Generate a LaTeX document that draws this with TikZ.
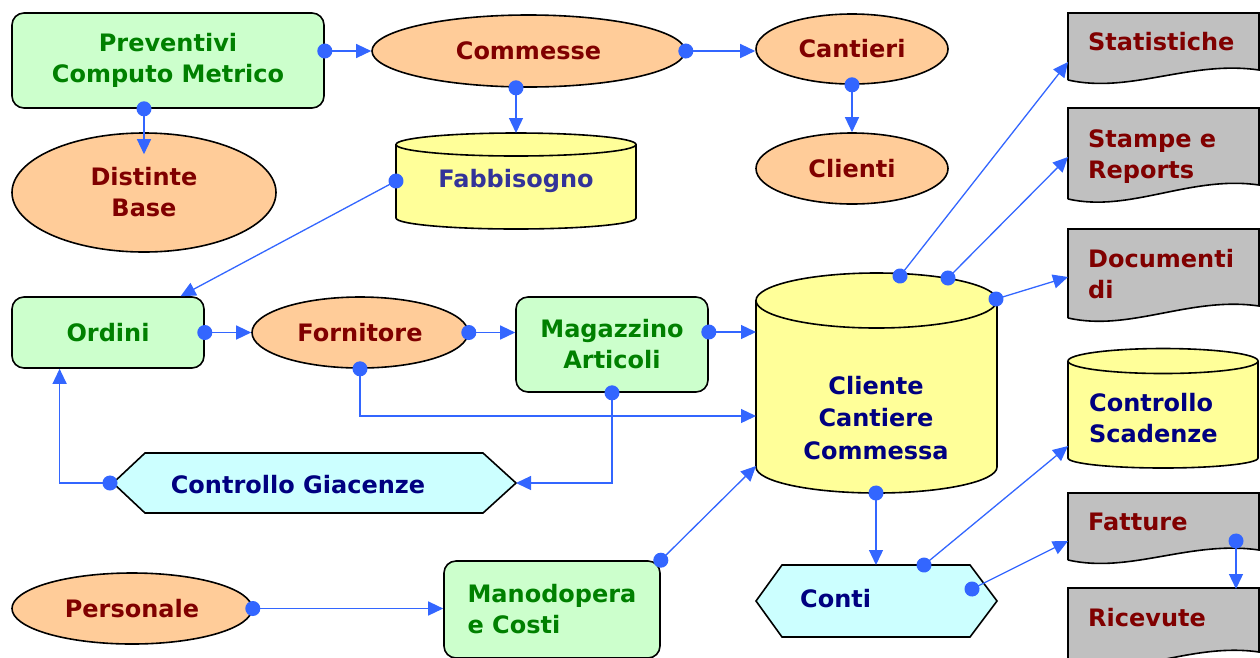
\documentclass[tikz,border=0pt]{standalone}
\usepackage{fontspec}
\setmainfont{DejaVu Sans}
\usetikzlibrary{shapes.geometric,arrows.meta,calc}

\definecolor{linkblue}{RGB}{51,102,255}
\definecolor{procgreen}{RGB}{204,255,204}
\definecolor{proctext}{RGB}{0,128,0}
\definecolor{entorange}{RGB}{255,204,153}
\definecolor{enttext}{RGB}{128,0,0}
\definecolor{dbyellow}{RGB}{255,255,153}
\definecolor{dbtext}{RGB}{0,0,128}
\definecolor{fabtext}{RGB}{51,51,153}
\definecolor{docgray}{RGB}{192,192,192}
\definecolor{ctrlcyan}{RGB}{204,255,255}

\tikzset{
  txt/.style={font=\bfseries\fontsize{24}{31}\selectfont, inner sep=0pt},
  outline/.style={draw=black, line width=1.6pt},
  proc/.style={txt, outline, fill=procgreen, text=proctext, rounded corners=12pt, align=center},
  ent/.style={txt, outline, ellipse, fill=entorange, text=enttext, align=center},
  dbshape/.style={outline, fill=dbyellow},
  docshape/.style={outline, fill=docgray},
  ctrlshape/.style={outline, fill=ctrlcyan},
  doclabel/.style={txt, text=enttext, anchor=base west, align=left},
  link/.style={linkblue, line width=1.3pt, shorten <=-7.5pt,
    {Circle[length=15pt]}-{Triangle[length=15pt,width=14pt]}},
}

\begin{document}
\begin{tikzpicture}[x=1pt, y=-1pt]
    \useasboundingbox (0,0) rectangle (1260,657);

    % Processes
    \node[proc, minimum width=312pt, minimum height=95pt] (prev) at (168,60.5) {Preventivi\\Computo Metrico};
    \node[proc, minimum width=192pt, minimum height=71pt] (ordi) at (108,332.5) {Ordini};
    \node[proc, minimum width=192pt, minimum height=95pt] (maga) at (612,344.5) {Magazzino\\Articoli};
    \node[proc, minimum width=216pt, minimum height=97pt, align=left] (mano) at (552,609.5) {Manodopera\\e Costi};

    % Entities
    \node[ent, minimum width=313pt, minimum height=72pt] (comm) at (528.5,51) {Commesse};
    \node[ent, minimum width=192pt, minimum height=70pt] (cant) at (852,49) {Cantieri};
    \node[ent, minimum width=192pt, minimum height=71pt] (clie) at (852,168.5) {Clienti};
    \node[ent, minimum width=264pt, minimum height=119pt] (dist) at (144,192.5) {Distinte\\Base};
    \node[ent, minimum width=216pt, minimum height=71pt] (forn) at (360,332.5) {Fornitore};
    \node[ent, minimum width=240pt, minimum height=71pt] (pers) at (132,608.5) {Personale};

    % Archives
    \filldraw[dbshape] (396,144.5) -- (396,218) arc[start angle=180, end angle=0, x radius=120, y radius=11] -- (636,144.5);
    \filldraw[dbshape] (516,144.5) ellipse[x radius=120, y radius=11.5];
    \node[txt, text=fabtext] (fabb) at (516,181) {Fabbisogno};

    \filldraw[dbshape] (756,300.5) -- (756,467) arc[start angle=180, end angle=0, x radius=120.5, y radius=26] -- (997,300.5);
    \filldraw[dbshape] (876.5,300.5) ellipse[x radius=120.5, y radius=27.5];
    \node[txt, text=dbtext, align=center, font=\bfseries\fontsize{24}{32.5}\selectfont] (ccc) at (876,418) {Cliente\\Cantiere\\Commessa};

    \filldraw[dbshape] (1068,361) -- (1068,458) arc[start angle=180, end angle=0, x radius=95, y radius=10] -- (1258,361);
    \filldraw[dbshape] (1163,361) ellipse[x radius=95, y radius=12.5];
    \node[doclabel, text=dbtext] (scad) at (1089,442) {Controllo\\Scadenze};

    % Controls
    \filldraw[ctrlshape] (113,483) -- (145,453) -- (483,453) -- (516,483) -- (483,513) -- (145,513) -- cycle;
    \node[txt, text=dbtext, anchor=base] (giac) at (298,493) {Controllo Giacenze};
    \filldraw[ctrlshape] (756,601) -- (782,565) -- (970,565) -- (997,601) -- (970,637) -- (782,637) -- cycle;
    \node[txt, text=dbtext, anchor=base west] (conti) at (800,607) {Conti};

    % Documents
    \filldraw[docshape] (1068,80) -- (1068,13) -- (1259,13) -- (1259,70) .. controls (1190,60) and (1130,94) .. (1068,80);
    \node[doclabel] (stat) at (1088,50) {Statistiche};
    \filldraw[docshape] (1068,199) -- (1068,108) -- (1259,108) -- (1259,185) .. controls (1190,175) and (1130,213) .. (1068,199);
    \node[doclabel] (stam) at (1088,178) {Stampe e\\Reports};
    \filldraw[docshape] (1068,318) -- (1068,229) -- (1259,229) -- (1259,306) .. controls (1190,296) and (1130,332) .. (1068,318);
    \node[doclabel] (docu) at (1088,298) {Documenti\\di};
    \filldraw[docshape] (1068,560) -- (1068,493) -- (1259,493) -- (1259,550) .. controls (1190,540) and (1130,574) .. (1068,560);
    \node[doclabel] (fatt) at (1088,530) {Fatture};
    \filldraw[docshape] (1068,665) -- (1068,588) -- (1259,588) -- (1259,652) .. controls (1190,642) and (1130,679) .. (1068,665);
    \node[doclabel] (rice) at (1088,626) {Ricevute};

    % Connection points
    \coordinate (fabb-n) at (516,133);
    \coordinate (fabb-w) at (396,181);
    \coordinate (ccc-n1) at (900,276);
    \coordinate (ccc-n2) at (948,278);
    \coordinate (ccc-n3) at (996,299);
    \coordinate (ccc-w1) at (756,332);
    \coordinate (ccc-w2) at (756,416);
    \coordinate (ccc-w3) at (756,466);
    \coordinate (ccc-s) at (876,493);
    \coordinate (giac-w) at (110,483);
    \coordinate (giac-e) at (516,483);
    \coordinate (conti-n) at (876,565);
    \coordinate (conti-p1) at (924,565);
    \coordinate (conti-p2) at (972,589);
    \coordinate (stat-w) at (1068,62);
    \coordinate (stam-w) at (1068,157);
    \coordinate (docu-w) at (1068,277);
    \coordinate (scad-w) at (1068,446);
    \coordinate (fatt-w) at (1068,541);
    \coordinate (fatt-p) at (1236,541);
    \coordinate (rice-n) at (1236,589);

    % Links
    \draw[link] (prev.east |- comm.west) -- (comm.west);
    \draw[link] (prev.south -| dist.north) -- ([yshift=-22pt]dist.north);
    \draw[link] (comm.east) -- (comm.east -| cant.west);
    \draw[link] (comm.south -| fabb-n) -- (fabb-n);
    \draw[link] (cant.south) -- (clie.north);
    \draw[link] (fabb-w) -- ($(ordi.north)!0.75!(ordi.north east)$);
    \draw[link] (ordi.east) -- (forn.west);
    \draw[link] (forn.east) -- (forn.east -| maga.west);
    \draw[link] (maga.east |- ccc-w1) -- (ccc-w1);
    \draw[link] (forn.south) |- (ccc-w2);
    \draw[link] (maga.south) |- (giac-e);
    \draw[link] (giac-w) -| ($(ordi.south west)!0.5!(ordi.south)$);
    \draw[link] (mano.north east) -- (ccc-w3);
    \draw[link] (pers.east) -- (pers.east -| mano.west);
    \draw[link] (ccc-n1) -- (stat-w);
    \draw[link] (ccc-n2) -- (stam-w);
    \draw[link] (ccc-n3) -- (docu-w);
    \draw[link] (ccc-s) -- (conti-n);
    \draw[link] (conti-p1) -- (scad-w);
    \draw[link] (conti-p2) -- (fatt-w);
    \draw[link] (fatt-p) -- (rice-n);
\end{tikzpicture}
\end{document}
